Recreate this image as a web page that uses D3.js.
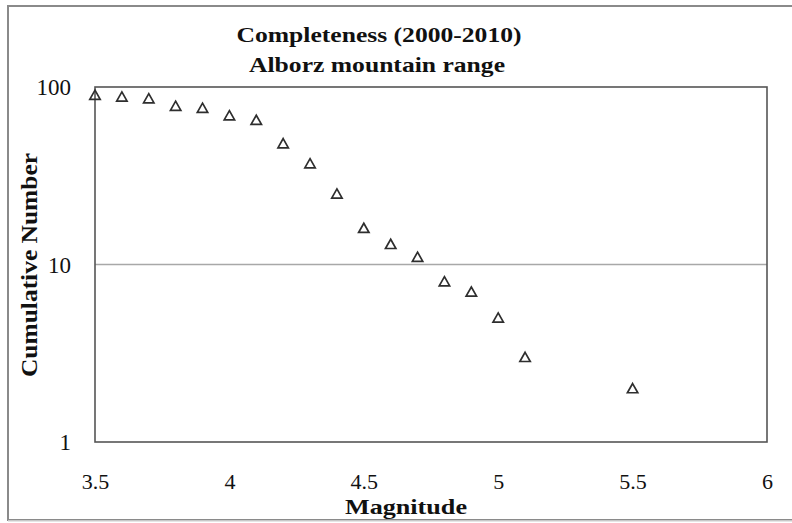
<!DOCTYPE html>
<html>
<head>
<meta charset="utf-8">
<script src="https://cdn.jsdelivr.net/npm/d3@7"></script>
<style>
  html, body { margin: 0; padding: 0; background: #fff; }
  svg { display: block; }
  text { font-family: "Liberation Serif", "Times New Roman", serif; fill: #111; }
</style>
</head>
<body>
<svg id="chart" width="792" height="523"></svg>
<script>
// Cumulative number of events at or above each magnitude
const magnitudes = [3.5, 3.6, 3.7, 3.8, 3.9, 4.0, 4.1, 4.2, 4.3, 4.4, 4.5, 4.6, 4.7, 4.8, 4.9, 5.0, 5.1, 5.5];
const cumulative = [90, 88, 86, 78, 76, 69, 65, 48, 37, 25, 16, 13, 11, 8, 7, 5, 3, 2];
const xTicks = [3.5, 4, 4.5, 5, 5.5, 6];
const yTicks = [1, 10, 100];
const titleLines = ["Completeness (2000-2010)", "Alborz mountain range"];
const xTitle = "Magnitude";
const yTitle = "Cumulative Number";

const svg = d3.select("#chart");
const plot = { left: 95, right: 767, top: 87, bottom: 442 };
const serif = '"Liberation Serif", "Times New Roman", serif';

const x = d3.scaleLinear().domain([3.5, 6]).range([plot.left, plot.right]);
const y = d3.scaleLog().domain([1, 100]).range([plot.bottom, plot.top]);

// outer chart frame
svg.append("rect")
  .attr("x", 8).attr("y", 6).attr("width", 800).attr("height", 514)
  .attr("fill", "none").attr("stroke", "#8a8a8a").attr("stroke-width", 2);
svg.append("line")
  .attr("x1", 8).attr("x2", 792).attr("y1", 521).attr("y2", 521)
  .attr("stroke", "#dcdcdc").attr("stroke-width", 1.5);

// horizontal gridlines between the axis limits
svg.append("g")
  .selectAll("line")
  .data(yTicks.filter(v => v > 1 && v < 100))
  .join("line")
  .attr("x1", plot.left).attr("x2", plot.right)
  .attr("y1", d => y(d)).attr("y2", d => y(d))
  .attr("stroke", "#a8a8a8").attr("stroke-width", 1.5);

// plot area border
svg.append("rect")
  .attr("x", plot.left).attr("y", plot.top)
  .attr("width", plot.right - plot.left).attr("height", plot.bottom - plot.top)
  .attr("fill", "none").attr("stroke", "#555").attr("stroke-width", 1.6);

// y axis labels
const yAxis = d3.axisLeft(y).tickValues(yTicks).tickFormat(d3.format("d")).tickSize(0).tickPadding(24);
svg.append("g")
  .attr("transform", `translate(${plot.left},0)`)
  .call(yAxis)
  .call(g => g.select(".domain").remove())
  .call(g => g.selectAll("text")
    .style("font-family", serif)
    .style("font-size", "23px")
    .style("fill", "#111")
    .attr("dy", "0.34em"));

// x axis labels
const xAxis = d3.axisBottom(x).tickValues(xTicks).tickFormat(d => String(d)).tickSize(0).tickPadding(31);
svg.append("g")
  .attr("transform", `translate(0,${plot.bottom})`)
  .call(xAxis)
  .call(g => g.select(".domain").remove())
  .call(g => g.selectAll("text")
    .style("font-family", serif)
    .style("font-size", "22px")
    .style("fill", "#111"));

// hollow triangle markers
const tri = (cx, cy) => `M${cx},${cy - 5}L${cx + 5.2},${cy + 4.2}L${cx - 5.2},${cy + 4.2}Z`;
svg.append("g")
  .selectAll("path")
  .data(magnitudes.map((m, i) => ({ m, n: cumulative[i] })))
  .join("path")
  .attr("d", d => tri(x(d.m), y(d.n)))
  .attr("fill", "none")
  .attr("stroke", "#2e2e2e")
  .attr("stroke-width", 1.7)
  .attr("stroke-linejoin", "miter");

// titles
svg.append("text")
  .attr("x", 379).attr("y", 42)
  .attr("text-anchor", "middle")
  .style("font-size", "21px").style("font-weight", "bold")
  .attr("textLength", 285).attr("lengthAdjust", "spacingAndGlyphs")
  .text(titleLines[0]);
svg.append("text")
  .attr("x", 377).attr("y", 71.5)
  .attr("text-anchor", "middle")
  .style("font-size", "21px").style("font-weight", "bold")
  .attr("textLength", 256).attr("lengthAdjust", "spacingAndGlyphs")
  .text(titleLines[1]);

svg.append("text")
  .attr("x", 406).attr("y", 514)
  .attr("text-anchor", "middle")
  .style("font-size", "22px").style("font-weight", "bold")
  .attr("textLength", 122).attr("lengthAdjust", "spacingAndGlyphs")
  .text(xTitle);

svg.append("text")
  .attr("transform", "translate(37,265) rotate(-90)")
  .attr("text-anchor", "middle")
  .style("font-size", "23px").style("font-weight", "bold")
  .attr("textLength", 224).attr("lengthAdjust", "spacingAndGlyphs")
  .text(yTitle);
</script>
</body>
</html>
